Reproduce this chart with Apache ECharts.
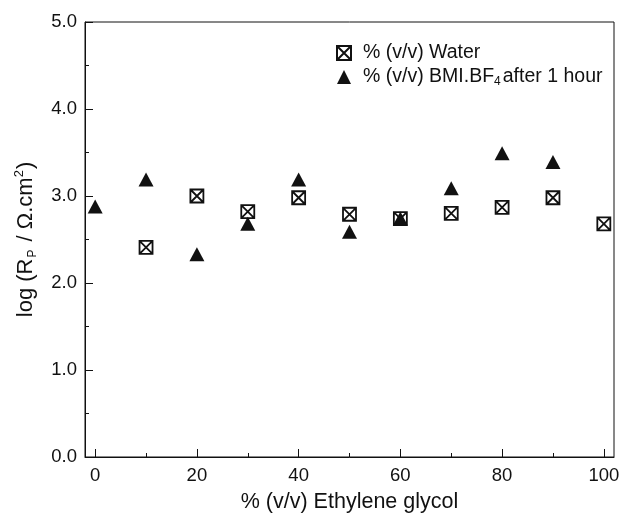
<!DOCTYPE html>
<html>
<head>
<meta charset="utf-8">
<script src="https://cdn.jsdelivr.net/npm/echarts@6/dist/echarts.min.js"></script>
<style>
  html, body { margin: 0; padding: 0; background: #fff; }
  #chart { width: 624px; height: 513px; }
</style>
</head>
<body>
<div id="chart"></div>
<script>
// Ethylene glycol content (% v/v)
const waterX = [10, 20, 30, 40, 50, 60, 70, 80, 90, 100];
const waterLogRp = [2.41, 3.00, 2.82, 2.98, 2.79, 2.74, 2.80, 2.87, 2.98, 2.68];

const bmiX = [0, 10, 20, 30, 40, 50, 60, 70, 80, 90];
const bmiLogRp = [2.88, 3.19, 2.33, 2.68, 3.19, 2.59, 2.74, 3.09, 3.49, 3.39];

const xMajorTicks = [0, 20, 40, 60, 80, 100];
const xMinorTicks = [10, 30, 50, 70, 90];

const FONT = '"Liberation Sans", Arial, Helvetica, sans-serif';
const INK = '#111';

// square with a cross through it
const crossedSquare = 'path://M0,0H10V10H0ZM0,0L10,10M10,0L0,10';

const pairs = (xs, ys) => xs.map((x, i) => [x, ys[i]]);

const chart = echarts.init(document.getElementById('chart'), null, { renderer: 'canvas' });

chart.setOption({
  animation: false,
  backgroundColor: '#fff',
  textStyle: { fontFamily: FONT },
  grid: {
    left: 85, right: 10, top: 22, bottom: 56,
    outerBoundsMode: 'none',
    containLabel: false,
    show: true, borderColor: INK, borderWidth: 1, backgroundColor: 'transparent'
  },
  legend: {
    orient: 'vertical',
    left: 336, top: 43,
    padding: 0,
    itemGap: 4,
    itemWidth: 14, itemHeight: 14,
    textStyle: {
      fontFamily: FONT, fontSize: 19.5, color: INK,
      padding: [0, 0, 0, 7],
      rich: {
        t: { fontFamily: FONT, fontSize: 19.5, color: INK, lineHeight: 22 },
        sub: { fontFamily: FONT, fontSize: 12, color: INK, verticalAlign: 'bottom', lineHeight: 13, padding: [0, 2, 0, 0] }
      }
    },
    formatter: function (name) {
      if (name === 'bmi') return '{t|% (v/v) BMI.BF}{sub|4}{t|after 1 hour}';
      return '{t|% (v/v) Water}';
    },
    data: ['water', 'bmi']
  },
  xAxis: [{
    type: 'value',
    min: -2, max: 102,
    position: 'bottom',
    axisLine: { show: true, onZero: false, lineStyle: { color: INK, width: 1 } },
    axisTick: { show: true, inside: true, length: 8, customValues: xMajorTicks, lineStyle: { color: INK } },
    axisLabel: { customValues: xMajorTicks, color: INK, fontSize: 18.5, fontFamily: FONT, margin: 9 },
    splitLine: { show: false },
    name: '% (v/v) Ethylene glycol',
    nameLocation: 'middle',
    nameGap: 34,
    nameTextStyle: { fontSize: 21.5, color: INK, fontFamily: FONT }
  }, {
    type: 'value',
    min: -2, max: 102,
    position: 'bottom',
    axisLine: { show: false },
    axisTick: { show: true, inside: true, length: 4, customValues: xMinorTicks, lineStyle: { color: INK } },
    axisLabel: { show: false },
    splitLine: { show: false }
  }],
  yAxis: {
    type: 'value',
    min: 0, max: 5, interval: 1,
    axisLine: { show: true, onZero: false, lineStyle: { color: INK, width: 1 } },
    axisTick: { show: true, inside: true, length: 8, lineStyle: { color: INK } },
    minorTick: { show: true, splitNumber: 2, length: 4, lineStyle: { color: INK } },
    axisLabel: {
      color: INK, fontSize: 18.5, fontFamily: FONT, margin: 8,
      formatter: v => v.toFixed(1)
    },
    splitLine: { show: false },
    name: '{t|log (R}{sub|P}{t| / Ω.cm}{sup|2}{t|)}',
    nameLocation: 'middle',
    nameRotate: 90,
    nameGap: 46,
    nameTextStyle: {
      color: INK, fontFamily: FONT, fontSize: 22,
      rich: {
        t: { fontFamily: FONT, fontSize: 22, color: INK, lineHeight: 26 },
        sub: { fontFamily: FONT, fontSize: 12, color: INK, verticalAlign: 'bottom', lineHeight: 14, padding: [0, 2, 0, 1] },
        sup: { fontFamily: FONT, fontSize: 13, color: INK, verticalAlign: 'top', lineHeight: 14, padding: [0, 1, 0, 0] }
      }
    }
  },
  series: [{
    name: 'water',
    type: 'scatter',
    xAxisIndex: 0,
    data: pairs(waterX, waterLogRp),
    symbol: crossedSquare,
    symbolSize: 13,
    itemStyle: { color: '#fff', borderColor: INK, borderWidth: 1.8, opacity: 1 },
    z: 2
  }, {
    name: 'bmi',
    type: 'scatter',
    xAxisIndex: 0,
    data: pairs(bmiX, bmiLogRp),
    symbol: 'triangle',
    symbolSize: [15, 14],
    itemStyle: { color: INK, opacity: 1 },
    z: 3
  }]
});
</script>
</body>
</html>
